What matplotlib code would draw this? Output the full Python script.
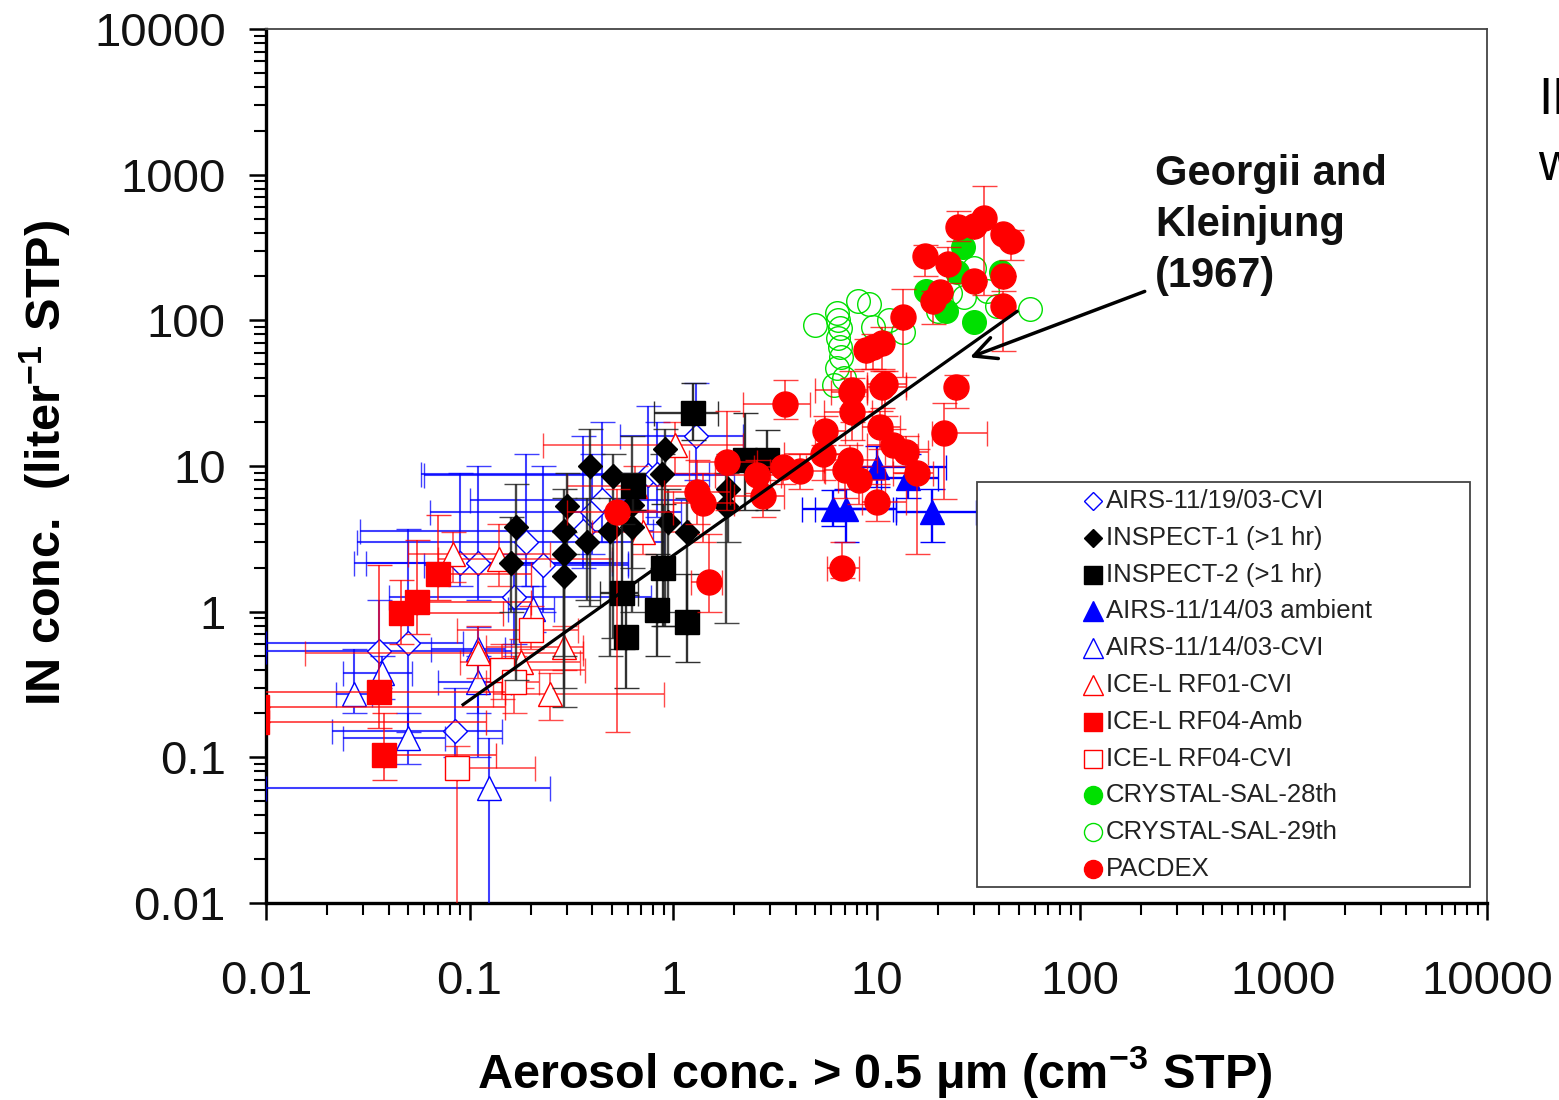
import numpy as np
import matplotlib
matplotlib.use("Agg")
import matplotlib.pyplot as plt
from matplotlib.patches import Rectangle
from matplotlib.ticker import FixedLocator, FixedFormatter, LogLocator, NullFormatter

plt.rcParams['font.family'] = ['Liberation Sans', 'DejaVu Sans']
plt.rcParams['mathtext.fontset'] = 'custom'
plt.rcParams['mathtext.rm'] = 'Liberation Sans'
plt.rcParams['mathtext.bf'] = 'Liberation Sans:bold'
plt.rcParams['mathtext.it'] = 'Liberation Sans:italic'

# ---------------- data ----------------
tick_vals = [0.01, 0.1, 1, 10, 100, 1000, 10000]
tick_labels = ['0.01', '0.1', '1', '10', '100', '1000', '10000']

# AIRS-11/19/03-CVI (open blue diamonds)
a19_x   = [0.036, 0.050, 0.085, 0.165, 0.090, 0.110, 0.230, 0.190, 0.400, 0.450, 0.360, 0.750, 1.300, 0.830]
a19_y   = [0.54, 0.61, 0.152, 1.27, 2.15, 2.15, 2.10, 3.00, 4.80, 5.80, 3.60, 8.70, 16.0, 8.80]
a19_xlo = [0.010, 0.010, 0.021, 0.040, 0.027, 0.031, 0.060, 0.028, 0.064, 0.100, 0.029, 0.060, 0.550, 0.058]
a19_xhi = [0.160, 0.093, 0.145, 0.780, 0.500, 0.600, 0.600, 0.900, 1.100, 1.300, 0.800, 2.000, 2.200, 1.500]
a19_ylo = [0.30, 0.15, 0.10, 0.60, 1.50, 1.20, 1.00, 1.50, 2.50, 3.00, 2.00, 4.00, 8.00, 4.50]
a19_yhi = [1.20, 3.70, 0.30, 2.50, 9.00, 10.0, 10.0, 12.0, 12.0, 20.0, 16.0, 26.0, 37.0, 20.0]

# INSPECT-1 (>1 hr) (black diamonds)
i1_x   = [0.17, 0.16, 0.30, 0.29, 0.29, 0.29, 0.39, 0.38, 0.51, 0.49, 0.63, 0.63, 0.91, 0.88, 0.94, 1.17, 1.86, 1.83]
i1_y   = [3.8, 2.15, 5.3, 3.6, 2.5, 1.75, 10.0, 3.0, 8.5, 3.6, 3.8, 5.4, 13.0, 8.8, 4.1, 3.5, 6.9, 5.3]
i1_ylo = [0.34, 1.0, 2.5, 0.5, 0.3, 0.22, 1.1, 1.2, 0.66, 0.5, 1.0, 2.0, 0.8, 2.0, 1.0, 1.0, 3.0, 0.83]
i1_yhi = [7.5, 4.5, 9.0, 7.0, 6.0, 3.5, 18.0, 6.0, 12.0, 6.0, 16.0, 9.0, 18.0, 12.0, 7.0, 6.0, 12.0, 9.0]

# INSPECT-2 (>1 hr) (black squares)
i2_x   = [1.26, 2.25, 2.90, 0.56, 0.59, 0.83, 0.89, 1.17, 0.635]
i2_y   = [23.0, 11.0, 11.0, 1.35, 0.67, 1.03, 2.0, 0.85, 7.3]
i2_xlo = [0.81, 2.25, 2.90, 0.44, 0.59, 0.83, 0.89, 1.17, 0.635]
i2_xhi = [1.67, 2.25, 2.90, 0.67, 0.59, 0.83, 0.89, 1.17, 0.635]
i2_ylo = [15.0, 5.0, 5.0, 0.55, 0.30, 0.50, 0.80, 0.45, 5.0]
i2_yhi = [37.0, 23.0, 17.7, 4.0, 1.30, 2.50, 5.50, 1.80, 9.0]

# AIRS-11/14/03 ambient (filled blue triangles)
aa_x   = [6.1, 7.1, 10.0, 14.3, 18.7]
aa_y   = [5.1, 5.1, 9.8, 8.3, 4.8]
aa_xlo = [4.3, 5.0, 8.4, 10.5, 12.5]
aa_xhi = [12.5, 12.0, 22.0, 20.0, 31.0]
aa_ylo = [3.9, 3.0, 7.2, 6.0, 3.0]
aa_yhi = [6.8, 7.0, 13.8, 12.0, 6.9]

# AIRS-11/14/03-CVI (open blue triangles)
ac_x   = [0.027, 0.037, 0.050, 0.110, 0.110, 0.125, 0.205]
ac_y   = [0.27, 0.38, 0.136, 0.55, 0.33, 0.062, 1.05]
ac_xlo = [0.022, 0.024, 0.024, 0.065, 0.070, 0.010, 0.155]
ac_xhi = [0.033, 0.052, 0.076, 0.150, 0.160, 0.250, 0.260]
ac_ylo = [0.20, 0.25, 0.09, 0.10, 0.20, 0.005, 0.72]
ac_yhi = [0.55, 0.50, 0.20, 0.79, 0.50, 0.136, 1.50]

# ICE-L RF01-CVI (open red triangles)
r1_x   = [0.083, 0.14, 0.65, 1.02, 0.71, 0.11, 0.18, 0.25, 0.29]
r1_y   = [2.5, 2.3, 7.3, 14.0, 3.5, 0.52, 0.45, 0.27, 0.57]
r1_xlo = [0.05, 0.07, 0.30, 0.23, 0.40, 0.0155, 0.09, 0.13, 0.12]
r1_xhi = [0.25, 0.50, 1.20, 2.20, 1.20, 0.36, 0.35, 0.90, 0.36]
r1_ylo = [1.6, 1.5, 5.0, 9.0, 2.5, 0.35, 0.30, 0.18, 0.40]
r1_yhi = [3.5, 4.0, 10.0, 20.0, 5.0, 0.80, 0.65, 0.38, 0.80]

# ICE-L RF04-Amb (filled red squares)
r4a_x   = [0.036, 0.038, 0.046, 0.055, 0.070, 0.009, 0.009]
r4a_y   = [0.28, 0.104, 0.98, 1.17, 1.80, 0.22, 0.175]
r4a_xlo = [0.008, 0.038, 0.046, 0.055, 0.070, 0.009, 0.009]
r4a_xhi = [0.150, 0.135, 0.146, 0.200, 0.200, 0.150, 0.120]
r4a_ylo = [0.16, 0.07, 0.60, 0.70, 1.20, 0.22, 0.175]
r4a_yhi = [2.10, 0.20, 1.66, 3.10, 4.60, 0.22, 0.175]

# ICE-L RF04-CVI (open red squares)
r4c_x   = [0.087, 0.145, 0.165, 0.200]
r4c_y   = [0.084, 0.40, 0.33, 0.75]
r4c_xlo = [0.087, 0.13, 0.12, 0.087]
r4c_xhi = [0.210, 0.37, 0.22, 0.34]
r4c_ylo = [0.005, 0.25, 0.20, 0.55]
r4c_yhi = [0.12, 0.60, 0.50, 1.10]

# CRYSTAL-SAL-28th (filled green circles)
c28_x = [17.5, 30.0, 22.0, 26.5, 25.0, 41.0, 20.0]
c28_y = [160, 97, 115, 320, 215, 215, 150]

# CRYSTAL-SAL-29th (open green circles)
c29_x = [5.0, 6.4, 6.5, 6.6, 6.5, 6.6, 6.7, 6.4, 6.9, 8.1, 9.2, 9.6, 11.5, 13.5, 27.0, 30.0, 39.0, 57.0, 20.0, 23.0, 35.0, 6.2]
c29_y = [93, 113, 100, 88, 76, 66, 56, 47, 40, 135, 130, 90, 100, 83, 145, 230, 125, 120, 115, 155, 160, 36]

# PACDEX (filled red circles)
pd_x   = [33.9, 25.2, 30.0, 42.0, 46.0, 17.4, 22.4, 30.0, 41.8, 41.8, 20.6, 19.0, 13.5, 9.6, 10.7, 8.9,
          7.6, 11.0, 24.6, 3.54, 5.56, 7.54, 10.7, 10.4, 21.4, 5.43, 7.4, 7.0, 8.25, 10.1, 12.0, 14.0,
          15.9, 4.19, 3.46, 2.58, 2.76, 1.84, 1.31, 1.40, 1.51, 6.8, 0.53, 7.5]
pd_y   = [505, 440, 443, 390, 350, 278, 244, 187, 201, 125, 156, 135, 106, 66, 70, 63,
          33.5, 36.5, 35, 26.5, 17.3, 23.3, 35, 18.5, 16.8, 12, 11, 9.4, 8.0, 5.7, 14, 12.5,
          9.0, 9.3, 9.8, 8.7, 6.2, 10.6, 6.6, 5.6, 1.6, 2.0, 4.8, 32]
pd_xlo = [33.9, 25.2, 30.0, 42.0, 46.0, 17.4, 22.4, 30.0, 41.8, 41.8, 20.6, 19.0, 13.5, 9.6, 10.7, 8.9,
          5.0, 9.0, 24.6, 2.2, 5.0, 5.5, 9.0, 8.5, 18.8, 3.5, 5.5, 5.5, 6.5, 8.5, 9.0, 11.0,
          12.0, 3.0, 2.5, 1.6, 2.0, 1.2, 0.9, 1.0, 1.22, 5.7, 0.30, 6.0]
pd_xhi = [33.9, 25.2, 30.0, 42.0, 46.0, 17.4, 22.4, 30.0, 41.8, 41.8, 20.6, 19.0, 13.5, 9.6, 10.7, 8.9,
          9.0, 14.0, 24.6, 4.7, 7.0, 9.5, 14.0, 13.0, 35.0, 8.0, 10.0, 9.0, 11.0, 14.0, 16.0, 18.0,
          19.0, 5.6, 4.5, 3.4, 3.5, 2.6, 1.9, 2.0, 1.74, 8.25, 1.0, 9.0]
pd_ylo = [150, 350, 443, 390, 260, 200, 180, 187, 201, 62, 156, 95, 41, 46, 46, 46,
          20, 22, 25, 21, 12, 15, 25, 13, 5.9, 8, 7, 6, 5.5, 4.2, 10, 9,
          2.5, 7, 7.5, 6.5, 4.5, 5, 4, 3, 1.0, 1.7, 0.15, 25]
pd_yhi = [830, 560, 443, 390, 420, 330, 320, 187, 201, 160, 156, 160, 165, 80, 90, 75,
          40, 45, 42, 39, 22, 30, 45, 24, 27, 14, 14, 12, 10, 7.5, 18, 16,
          13, 12, 11, 11, 8, 24, 11, 9, 3.4, 3.0, 7, 45]

# Georgii and Kleinjung (1967) line
gk_x = [0.093, 49.0]
gk_y = [0.23, 115.0]
arrow_tail = (208.0, 158.0)
arrow_head = (28.8, 55.7)

legend_labels = ['AIRS-11/19/03-CVI', 'INSPECT-1 (>1 hr)', 'INSPECT-2 (>1 hr)',
                 'AIRS-11/14/03 ambient', 'AIRS-11/14/03-CVI', 'ICE-L RF01-CVI',
                 'ICE-L RF04-Amb', 'ICE-L RF04-CVI', 'CRYSTAL-SAL-28th',
                 'CRYSTAL-SAL-29th', 'PACDEX']

BLUE = '#0000FF'
RED = '#FF0000'
GREEN = '#00E000'
BLACK = '#000000'

# ---------------- figure ----------------
W, H = 1559, 1100
fig = plt.figure(figsize=(W / 100, H / 100), dpi=100)
L, R, T, B = 266, 1487, 29, 903
ax = fig.add_axes([L / W, 1 - B / H, (R - L) / W, (B - T) / H])
ax.set_xscale('log')
ax.set_yscale('log')
ax.set_xlim(0.01, 10000)
ax.set_ylim(0.01, 10000)


def series(x, y, xlo, xhi, ylo, yhi, marker, ms, mfc, mec, ecol, z, mew=1.0, elw=1.3):
    x = np.asarray(x, float); y = np.asarray(y, float)
    xerr = np.clip(np.vstack([x - np.asarray(xlo), np.asarray(xhi) - x]), 0, None)
    yerr = np.clip(np.vstack([y - np.asarray(ylo), np.asarray(yhi) - y]), 0, None)
    ax.errorbar(x, y, xerr=xerr, yerr=yerr, fmt=marker, ms=ms, mfc=mfc, mec=mec, mew=mew,
                ecolor=ecol, elinewidth=elw, capsize=9, capthick=elw, zorder=z)


series(a19_x, a19_y, a19_xlo, a19_xhi, a19_ylo, a19_yhi, 'D', 12, 'white', BLUE, (0, 0, 1, 0.75), 3, elw=1.5)
series(ac_x, ac_y, ac_xlo, ac_xhi, ac_ylo, ac_yhi, '^', 17, 'white', BLUE, (0, 0, 1, 0.75), 3.1, elw=1.5)
series(r1_x, r1_y, r1_xlo, r1_xhi, r1_ylo, r1_yhi, '^', 17, 'white', RED, (1, 0, 0, 0.7), 3.2, elw=1.2)
series(r4c_x, r4c_y, r4c_xlo, r4c_xhi, r4c_ylo, r4c_yhi, 's', 17, 'white', RED, (1, 0, 0, 0.7), 3.3, elw=1.2)
series(r4a_x, r4a_y, r4a_xlo, r4a_xhi, r4a_ylo, r4a_yhi, 's', 17.5, RED, RED, (1, 0, 0, 0.8), 3.4, elw=1.2)
series(i1_x, i1_y, i1_x, i1_x, i1_ylo, i1_yhi, 'D', 12.5, BLACK, BLACK, (0.15, 0.15, 0.15, 0.85), 3.5, elw=1.7)
series(i2_x, i2_y, i2_xlo, i2_xhi, i2_ylo, i2_yhi, 's', 17.5, BLACK, BLACK, (0.1, 0.1, 0.1, 0.9), 3.6, elw=1.7)
series(aa_x, aa_y, aa_xlo, aa_xhi, aa_ylo, aa_yhi, '^', 17, BLUE, BLUE, BLUE, 3.7, elw=1.7)
ax.plot(c29_x, c29_y, ls='none', marker='o', ms=17, mfc='none', mec=GREEN, mew=1.0, zorder=3.8)
ax.plot(c28_x, c28_y, ls='none', marker='o', ms=17, mfc=GREEN, mec=GREEN, zorder=3.85)
series(pd_x, pd_y, pd_xlo, pd_xhi, pd_ylo, pd_yhi, 'o', 18, RED, RED, (1, 0, 0, 0.75), 3.9, elw=1.2)

# Georgii and Kleinjung line + annotation
ax.plot(gk_x, gk_y, color='black', lw=2.3, zorder=5)
ax.annotate('', xy=arrow_head, xytext=arrow_tail,
            arrowprops=dict(arrowstyle='->', lw=2.5, color='black', mutation_scale=40,
                            shrinkA=0, shrinkB=0), zorder=6)
ax.text((1155 - L) / (R - L), (B - 154) / (B - T), 'Georgii and\nKleinjung\n(1967)',
        transform=ax.transAxes, fontsize=30, fontweight='bold', ha='left', va='top',
        linespacing=1.36, color='#111111', zorder=6)

# axes styling
for s in ['left', 'bottom']:
    ax.spines[s].set_linewidth(2.4)
    ax.spines[s].set_color('black')
for s in ['top', 'right']:
    ax.spines[s].set_linewidth(1.3)
    ax.spines[s].set_color('#444444')

for axis in (ax.xaxis, ax.yaxis):
    axis.set_major_locator(FixedLocator(tick_vals))
    axis.set_major_formatter(FixedFormatter(tick_labels))
    axis.set_minor_locator(LogLocator(base=10, subs=np.arange(2, 10)))
    axis.set_minor_formatter(NullFormatter())
ax.tick_params(which='major', direction='out', length=12, width=1.8, labelsize=34,
               top=False, right=False, colors='black', labelcolor='#111111')
ax.tick_params(which='minor', direction='out', length=8.5, width=1.5, top=False, right=False)
ax.tick_params(axis='x', which='major', pad=29)
ax.tick_params(axis='y', which='major', pad=17)

# axis titles
fig.text(45 / W, 1 - 463 / H, r'IN conc.  (liter$^{\mathbf{-1}}$ STP)', rotation=90,
         fontsize=35, fontweight='bold', ha='center', va='center')
fig.text(875 / W, 1 - 1072 / H, r'Aerosol conc. > 0.5 μm (cm$^{\mathbf{-3}}$ STP)',
         fontsize=35, fontweight='bold', ha='center', va='center')

# legend (manual)
lx0, ly_top, lx1, ly_bot = 977, 482, 1470, 887
ax.add_patch(Rectangle(((lx0 - L) / (R - L), (B - ly_bot) / (B - T)),
                       (lx1 - lx0) / (R - L), (ly_bot - ly_top) / (B - T),
                       transform=ax.transAxes, facecolor='white', edgecolor='#444444',
                       lw=1.3, zorder=10, clip_on=False))
leg_styles = [('D', 9, 'white', BLUE), ('D', 9, BLACK, BLACK), ('s', 12.5, BLACK, BLACK),
              ('^', 14, BLUE, BLUE), ('^', 14, 'white', BLUE), ('^', 14, 'white', RED),
              ('s', 12.5, RED, RED), ('s', 12.5, 'white', RED), ('o', 13, GREEN, GREEN),
              ('o', 13, 'white', GREEN), ('o', 13, RED, RED)]
for i, (lab, (mk, ms, fc, ec)) in enumerate(zip(legend_labels, leg_styles)):
    py = 501 + i * 36.8
    yy = (B - py) / (B - T)
    ax.plot([(1093 - L) / (R - L)], [yy], transform=ax.transAxes, ls='none', marker=mk,
            ms=ms, mfc=fc, mec=ec, mew=1.0, zorder=11, clip_on=False)
    ax.text((1106 - L) / (R - L), yy, lab, transform=ax.transAxes, fontsize=18.5,
            ha='left', va='center', color='#222222', zorder=11)

# cut-off slide text at right edge (partially outside the canvas, as in the reference)
fig.text(1538 / W, 1 - 101 / H, 'IN', fontsize=37, ha='left', va='center')
fig.text(1538 / W, 1 - 166 / H, 'w', fontsize=37, ha='left', va='center')

fig.savefig('out.png', dpi=100)
